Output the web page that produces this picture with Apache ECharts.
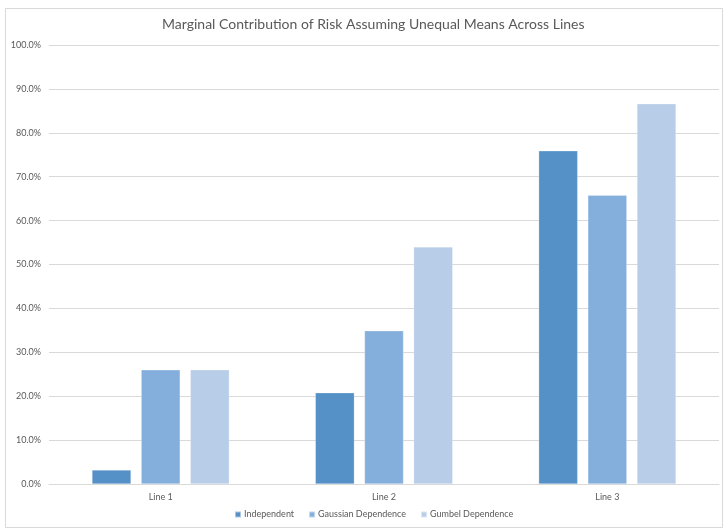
<!DOCTYPE html>
<html>
<head>
<meta charset="utf-8">
<script src="https://cdn.jsdelivr.net/npm/echarts@6/dist/echarts.min.js"></script>
<style>
  html, body { margin: 0; padding: 0; background: #fff; }
  #chart { width: 727px; height: 530px; }
</style>
</head>
<body>
<div id="chart"></div>
<script>
// Categories and series values (percent)
const categories = ['Line 1', 'Line 2', 'Line 3'];
const seriesNames = ['Independent', 'Gaussian Dependence', 'Gumbel Dependence'];
const independent = [3.2, 20.8, 75.9];
const gaussian = [26.0, 34.9, 65.8];
const gumbel = [26.0, 54.0, 86.6];
const colors = ['#5591C7', '#84AFDC', '#B7CDE8'];

const chart = echarts.init(document.getElementById('chart'));
const font = 'Lato, "Open Sans", "Liberation Sans", sans-serif';

function barSeries(name, data, color) {
  return {
    name: name,
    type: 'bar',
    data: data,
    barGap: '26%',
    barCategoryGap: '38.5%',
    itemStyle: { color: color, borderColor: 'rgba(255,255,255,0.5)', borderWidth: 0.5 }
  };
}

chart.setOption({
  animation: false,
  color: colors,
  title: {
    text: 'Marginal Contribution of Risk Assuming Unequal Means Across Lines',
    left: 157,
    top: 12,
    textStyle: { fontFamily: font, fontSize: 14, fontWeight: 'normal', color: '#595959' }
  },
  graphic: [{
    type: 'rect',
    shape: { x: 5.5, y: 8.5, width: 717, height: 519 },
    style: { fill: 'none', stroke: '#D9D9D9', lineWidth: 1 },
    silent: true
  }],
  legend: {
    bottom: 6,
    left: 229,
    itemWidth: 6,
    itemHeight: 6,
    itemGap: 14,
    icon: 'rect',
    textStyle: { fontFamily: font, fontSize: 9, color: '#595959', padding: [0, 0, 0, -2] },
    data: seriesNames
  },
  grid: { left: 49, right: 8, top: 45, bottom: 46 },
  xAxis: {
    type: 'category',
    data: categories,
    axisLine: { lineStyle: { color: '#D9D9D9' } },
    axisTick: { show: false },
    axisLabel: { fontFamily: font, fontSize: 9, color: '#595959', margin: 9 }
  },
  yAxis: {
    type: 'value',
    min: 0,
    max: 100,
    interval: 10,
    axisLine: { show: false },
    axisTick: { show: false },
    splitLine: { lineStyle: { color: '#D9D9D9' } },
    axisLabel: {
      fontFamily: font, fontSize: 9, color: '#595959', margin: 8,
      formatter: v => v.toFixed(1) + '%'
    }
  },
  series: [
    barSeries(seriesNames[0], independent, colors[0]),
    barSeries(seriesNames[1], gaussian, colors[1]),
    barSeries(seriesNames[2], gumbel, colors[2])
  ]
});
</script>
</body>
</html>
